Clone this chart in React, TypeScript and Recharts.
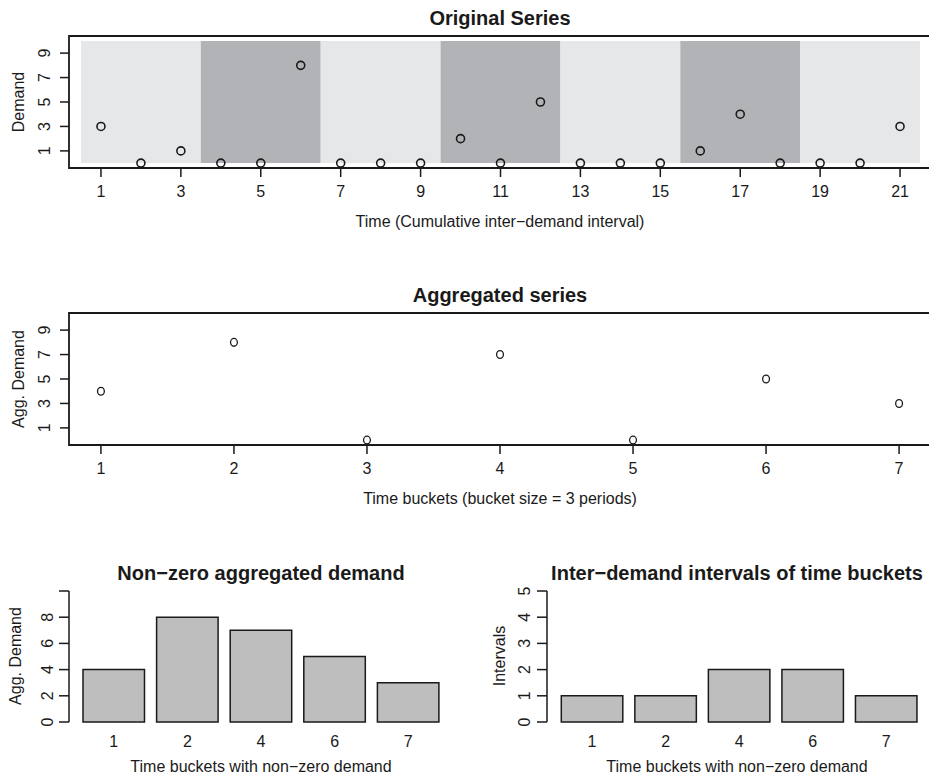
import React from "react";
import {
  ScatterChart,
  Scatter,
  BarChart,
  Bar,
  XAxis,
  YAxis,
  ReferenceArea,
} from "recharts";

// ---------- data ----------
const periods = [1, 2, 3, 4, 5, 6, 7, 8, 9, 10, 11, 12, 13, 14, 15, 16, 17, 18, 19, 20, 21];
const demand = [3, 0, 1, 0, 0, 8, 0, 0, 0, 2, 0, 5, 0, 0, 0, 1, 4, 0, 0, 0, 3];

const bucketStart = [0.5, 3.5, 6.5, 9.5, 12.5, 15.5, 18.5];
const bucketEnd = [3.5, 6.5, 9.5, 12.5, 15.5, 18.5, 21.5];

const buckets = [1, 2, 3, 4, 5, 6, 7];
const aggDemand = [4, 8, 0, 7, 0, 5, 3];

const nzBuckets = ["1", "2", "4", "6", "7"];
const nzDemand = [4, 8, 7, 5, 3];
const intervals = [1, 1, 2, 2, 1];

const xTicks1 = [1, 3, 5, 7, 9, 11, 13, 15, 17, 19, 21];
const yTicks1 = [1, 3, 5, 7, 9];
const xTicks2 = [1, 2, 3, 4, 5, 6, 7];
const yTicks3 = [0, 2, 4, 6, 8, 10];
const yLabels3 = ["0", "2", "4", "6", "8", ""];
const yTicks4 = [0, 1, 2, 3, 4, 5];

// ---------- styles ----------
const FONT = "'Liberation Sans', Arial, Helvetica, sans-serif";
const INK = "#1a1a1a";
const LIGHT = "#e6e7e9";
const DARK = "#b2b3b6";
const BARFILL = "#bebebe";

const series1 = periods.map((t, i) => ({ t, d: demand[i] }));
const series2 = buckets.map((t, i) => ({ t, d: aggDemand[i] }));
const bars1 = nzBuckets.map((b, i) => ({ b, v: nzDemand[i] }));
const bars2 = nzBuckets.map((b, i) => ({ b, v: intervals[i] }));

const RotTick = (props: any) => {
  const { x, y, payload, labels, ticks } = props;
  let label = String(payload.value);
  if (labels && ticks) {
    const idx = ticks.indexOf(payload.value);
    if (idx >= 0) label = labels[idx];
  }
  return (
    <text
      x={x}
      y={y}
      transform={`rotate(-90 ${x} ${y})`}
      textAnchor="middle"
      fontSize={16}
      fontFamily={FONT}
      fill={INK}
    >
      {label}
    </text>
  );
};

const xTickStyle = { fontSize: 16, fill: INK, fontFamily: FONT };
const tickLineStyle = { stroke: INK, strokeWidth: 1.5 };

const Circle1 = (props: any) => (
  <circle cx={props.cx} cy={props.cy} r={4} fill="none" stroke={INK} strokeWidth={1.6} />
);
const Circle2 = (props: any) => (
  <ellipse cx={props.cx} cy={props.cy} rx={3.4} ry={3.9} fill="none" stroke={INK} strokeWidth={1.3} />
);

export default function App() {
  return (
    <div
      style={{
        position: "absolute",
        left: 0,
        top: 0,
        width: 929,
        height: 781,
        overflow: "hidden",
        background: "#fff",
      }}
    >
      {/* Panel 1 */}
      <div style={{ position: "absolute", left: 0, top: 0 }}>
        <ScatterChart width={940} height={240} margin={{ top: 36, right: 8, bottom: 0, left: 0 }}>
          <XAxis
            dataKey="t"
            type="number"
            domain={[0.2, 21.8]}
            ticks={xTicks1}
            interval={0}
            allowDataOverflow
            axisLine={false}
            tickLine={tickLineStyle}
            tickSize={9}
            tickMargin={9}
            height={72}
            tick={xTickStyle}
          />
          <YAxis
            dataKey="d"
            type="number"
            domain={[-0.4, 10.4]}
            ticks={yTicks1}
            interval={0}
            allowDataOverflow
            axisLine={false}
            tickLine={tickLineStyle}
            tickSize={9}
            tickMargin={10}
            width={69}
            tick={<RotTick />}
          />
          {bucketStart.map((s, i) => (
            <ReferenceArea
              key={i}
              x1={s}
              x2={bucketEnd[i]}
              y1={0}
              y2={10}
              fill={i % 2 === 0 ? LIGHT : DARK}
              fillOpacity={1}
              stroke="none"
            />
          ))}
          <ReferenceArea
            x1={0.2}
            x2={21.8}
            y1={-0.4}
            y2={10.4}
            fill="none"
            stroke={INK}
            strokeWidth={1.8}
          />
          <Scatter data={series1} shape={<Circle1 />} isAnimationActive={false} />
        </ScatterChart>
      </div>

      {/* Panel 2 */}
      <div style={{ position: "absolute", left: 0, top: 277 }}>
        <ScatterChart width={940} height={240} margin={{ top: 36, right: 9, bottom: 0, left: 0 }}>
          <XAxis
            dataKey="t"
            type="number"
            domain={[0.76, 7.24]}
            ticks={xTicks2}
            interval={0}
            allowDataOverflow
            axisLine={false}
            tickLine={tickLineStyle}
            tickSize={9}
            tickMargin={9}
            height={72}
            tick={xTickStyle}
          />
          <YAxis
            dataKey="d"
            type="number"
            domain={[-0.4, 10.4]}
            ticks={yTicks1}
            interval={0}
            allowDataOverflow
            axisLine={false}
            tickLine={tickLineStyle}
            tickSize={9}
            tickMargin={10}
            width={69}
            tick={<RotTick />}
          />
          <ReferenceArea
            x1={0.76}
            x2={7.24}
            y1={-0.4}
            y2={10.4}
            fill="none"
            stroke={INK}
            strokeWidth={1.8}
          />
          <Scatter data={series2} shape={<Circle2 />} isAnimationActive={false} />
        </ScatterChart>
      </div>

      {/* Panel 3 */}
      <div style={{ position: "absolute", left: 0, top: 560 }}>
        <BarChart width={460} height={221} data={bars1} margin={{ top: 31, right: 7, bottom: 0, left: 0 }}>
          <XAxis
            dataKey="b"
            type="category"
            axisLine={false}
            tickLine={false}
            tickSize={0}
            tickMargin={14}
            height={59}
            padding={{ left: 8, right: 8 }}
            interval={0}
            tick={xTickStyle}
          />
          <YAxis
            type="number"
            domain={[0, 10]}
            ticks={yTicks3}
            interval={0}
            axisLine={{ stroke: INK, strokeWidth: 1.5 }}
            tickLine={tickLineStyle}
            tickSize={10}
            tickMargin={6}
            width={69}
            tick={<RotTick labels={yLabels3} ticks={yTicks3} />}
          />
          <Bar dataKey="v" fill={BARFILL} stroke={INK} strokeWidth={1.5} barSize={61.5} isAnimationActive={false} />
        </BarChart>
      </div>

      {/* Panel 4 */}
      <div style={{ position: "absolute", left: 477.7, top: 560 }}>
        <BarChart width={460} height={221} data={bars2} margin={{ top: 31, right: 7, bottom: 0, left: 0 }}>
          <XAxis
            dataKey="b"
            type="category"
            axisLine={false}
            tickLine={false}
            tickSize={0}
            tickMargin={14}
            height={59}
            padding={{ left: 8.3, right: 8 }}
            interval={0}
            tick={xTickStyle}
          />
          <YAxis
            type="number"
            domain={[0, 5]}
            ticks={yTicks4}
            interval={0}
            axisLine={{ stroke: INK, strokeWidth: 1.5 }}
            tickLine={tickLineStyle}
            tickSize={10}
            tickMargin={6.7}
            width={69}
            tick={<RotTick />}
          />
          <Bar dataKey="v" fill={BARFILL} stroke={INK} strokeWidth={1.5} barSize={61.5} isAnimationActive={false} />
        </BarChart>
      </div>

      {/* Titles and axis titles */}
      <svg
        width={929}
        height={781}
        style={{ position: "absolute", left: 0, top: 0, pointerEvents: "none" }}
        fontFamily={FONT}
        fill={INK}
      >
        <text x={500} y={25} textAnchor="middle" fontSize={20} fontWeight="bold">Original Series</text>
        <text x={500} y={227} textAnchor="middle" fontSize={16}>Time (Cumulative inter−demand interval)</text>
        <text x={24} y={102} transform="rotate(-90 24 102)" textAnchor="middle" fontSize={16}>Demand</text>

        <text x={500} y={302} textAnchor="middle" fontSize={20} fontWeight="bold">Aggregated series</text>
        <text x={500} y={504} textAnchor="middle" fontSize={16}>Time buckets (bucket size = 3 periods)</text>
        <text x={24} y={379} transform="rotate(-90 24 379)" textAnchor="middle" fontSize={16}>Agg. Demand</text>

        <text x={261} y={580} textAnchor="middle" fontSize={20} fontWeight="bold">Non−zero aggregated demand</text>
        <text x={261} y={772} textAnchor="middle" fontSize={16}>Time buckets with non−zero demand</text>
        <text x={21} y={656} transform="rotate(-90 21 656)" textAnchor="middle" fontSize={16}>Agg. Demand</text>

        <text x={737} y={580} textAnchor="middle" fontSize={20} fontWeight="bold">Inter−demand intervals of time buckets</text>
        <text x={737} y={772} textAnchor="middle" fontSize={16}>Time buckets with non−zero demand</text>
        <text x={505} y={656} transform="rotate(-90 505 656)" textAnchor="middle" fontSize={16}>Intervals</text>
      </svg>
    </div>
  );
}
